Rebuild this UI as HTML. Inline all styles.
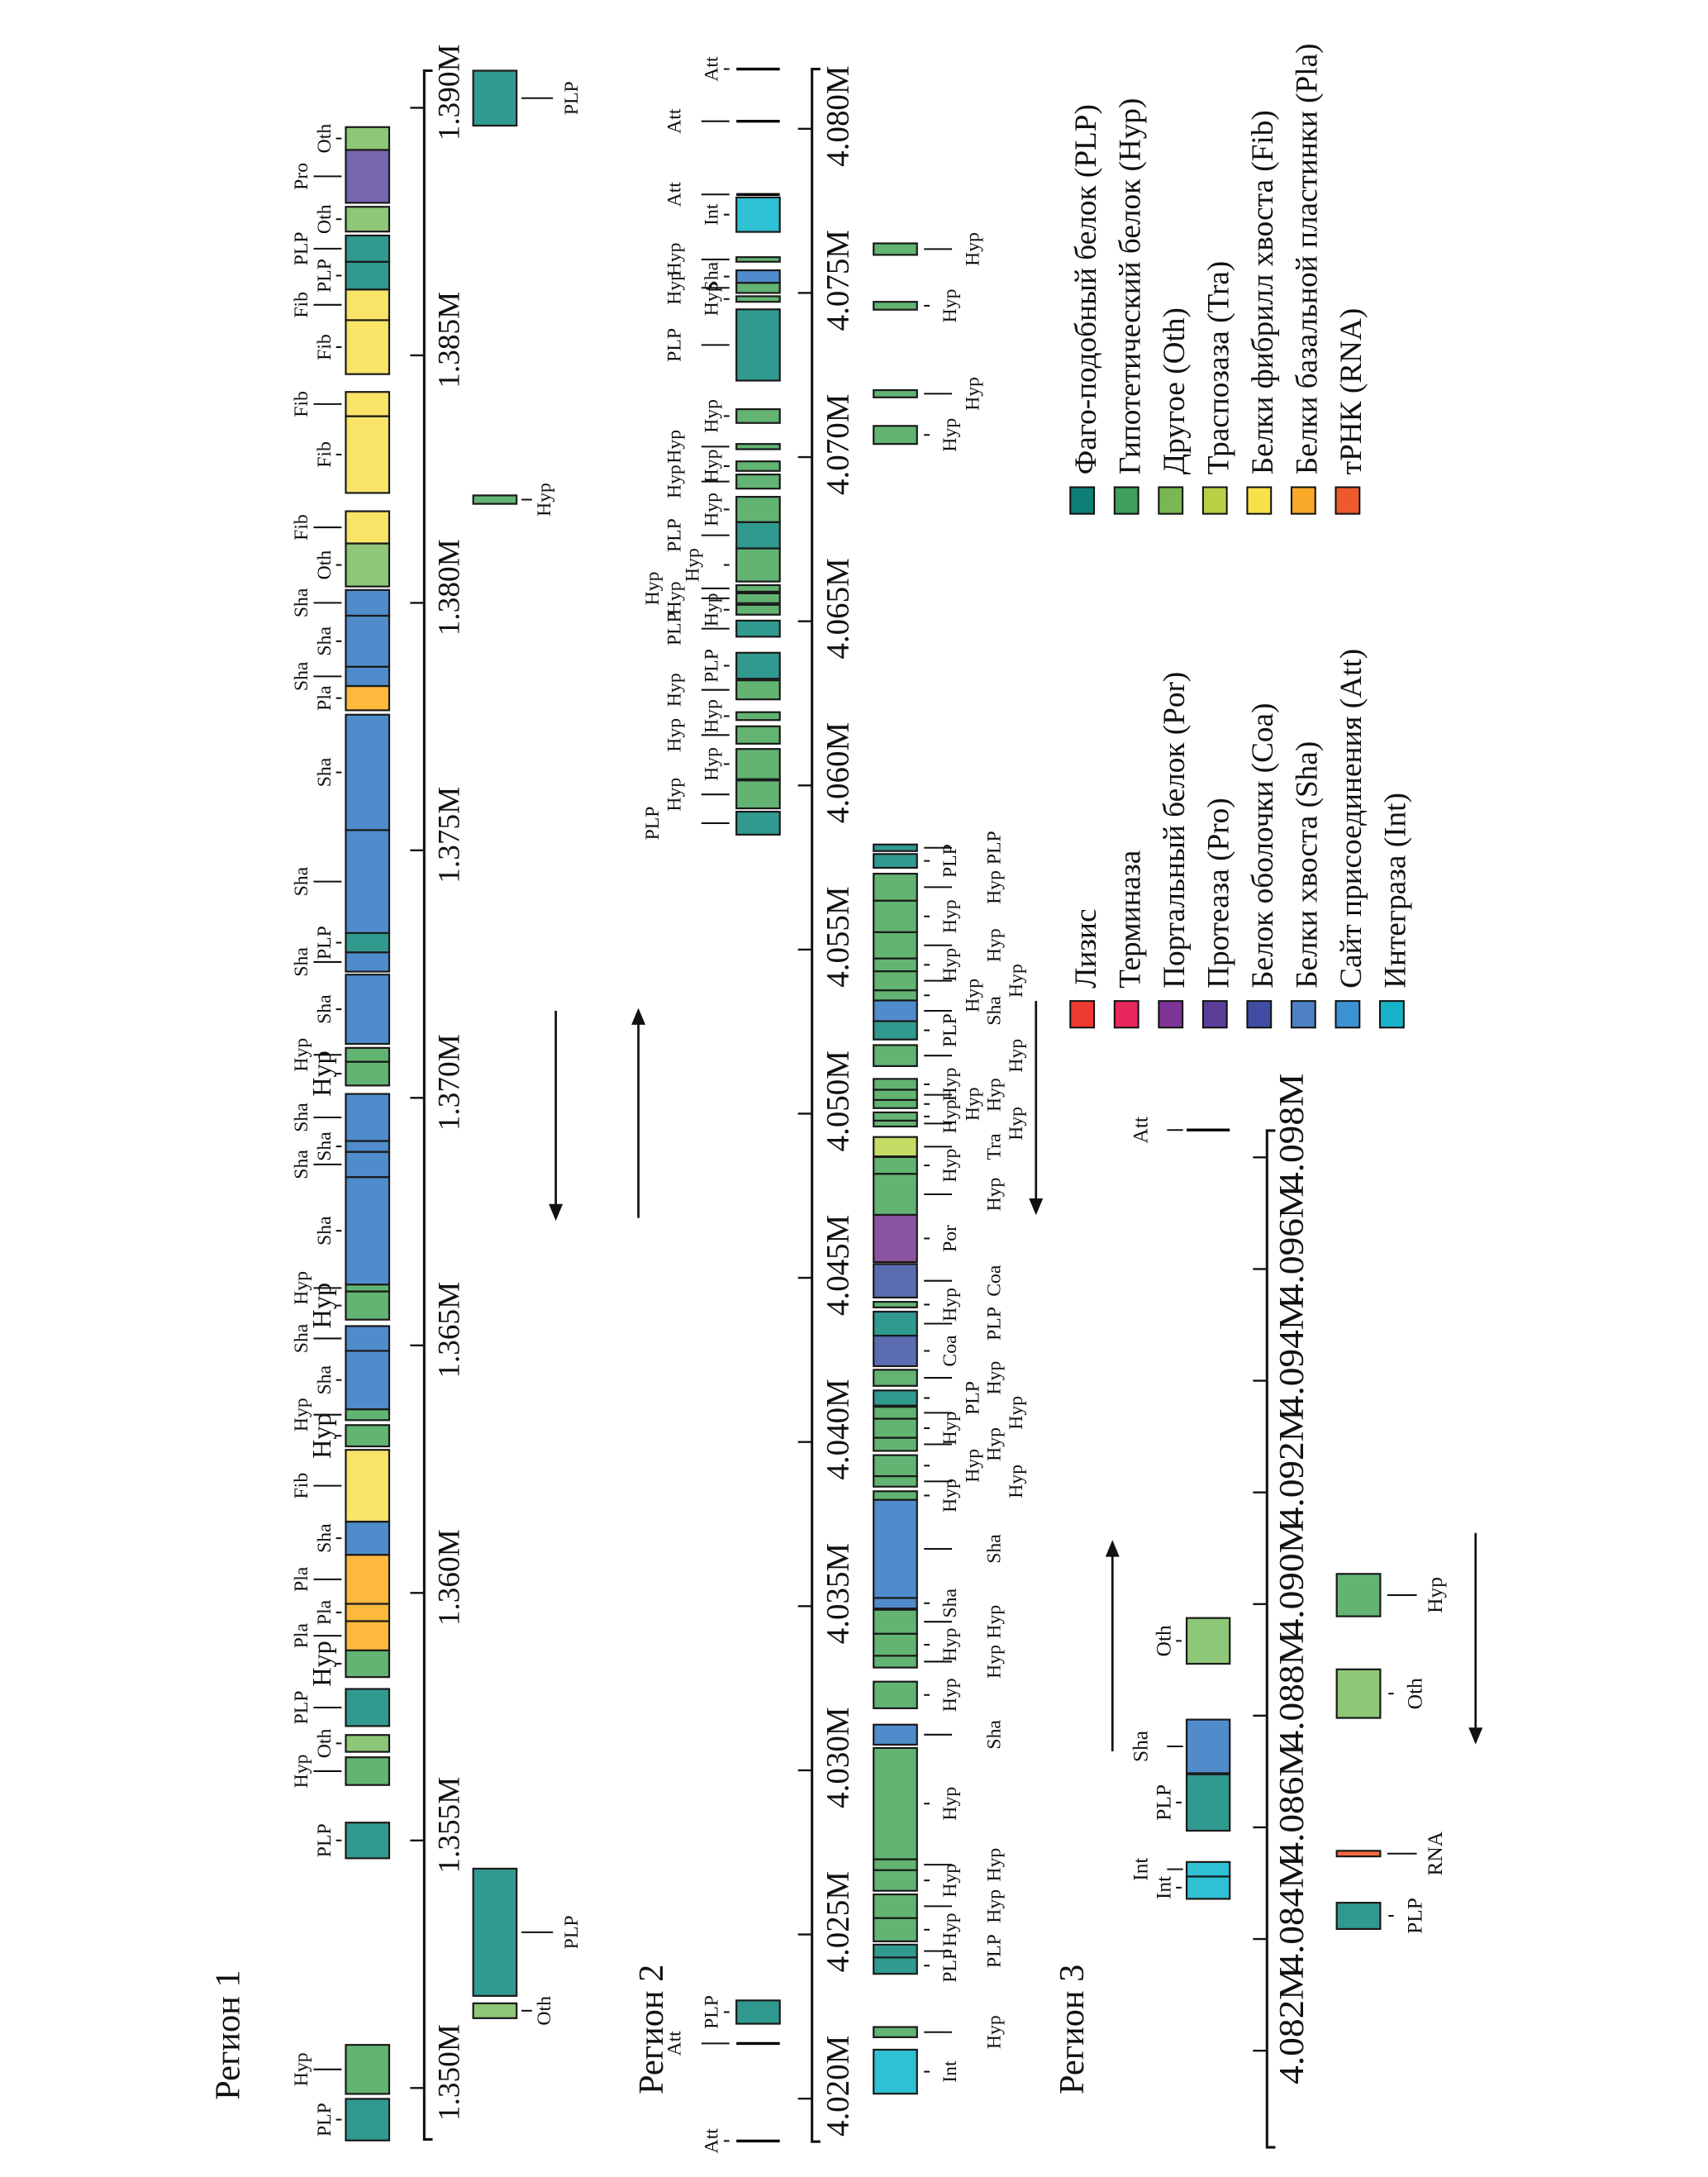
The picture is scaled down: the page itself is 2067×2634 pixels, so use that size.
<!DOCTYPE html>
<html><head><meta charset="utf-8">
<style>
html,body{margin:0;padding:0;background:#fff;}
svg{display:block;}
text{font-family:"Liberation Serif","Noto Serif CJK SC",serif;fill:#111;}
</style></head>
<body>
<svg id="chart" width="2067" height="2634" viewBox="0 0 1220 1555" preserveAspectRatio="none" xmlns="http://www.w3.org/2000/svg"></svg>
<script>
// ---------- Region 1 data ----------
const r1Start=[1348.94,1349.88,1354.64,1356.12,1356.79,1357.31,1358.30,1358.84,1359.43,1359.78,1360.77,1361.44,1362.96,1363.49,1363.71,1364.89,1365.52,1366.09,1366.23,1368.40,1368.91,1369.13,1370.25,1370.73,1371.09,1372.55,1372.94,1373.33,1375.41,1377.83,1378.32,1378.71,1379.74,1380.33,1381.20,1382.22,1383.77,1384.62,1385.71,1386.33,1386.89,1387.50,1388.08,1389.15,1351.41,1351.86,1382.00,1389.64];
const r1End=[1349.78,1350.87,1355.36,1356.68,1357.13,1358.06,1358.84,1359.43,1359.78,1360.77,1361.44,1362.89,1363.39,1363.71,1364.89,1365.39,1366.09,1366.23,1368.40,1368.91,1369.13,1370.08,1370.73,1371.01,1372.49,1372.94,1373.33,1375.41,1377.74,1378.32,1378.71,1379.74,1380.26,1381.20,1381.85,1383.77,1384.26,1385.71,1386.33,1386.89,1387.42,1388.00,1389.15,1389.61,1351.71,1354.43,1382.17,1390.75];
const r1Type=['PLP','Hyp','PLP','Hyp','Oth','PLP','Hyp','Pla','Pla','Pla','Sha','Fib','Hyp','Hyp','Sha','Sha','Hyp','Hyp','Sha','Sha','Sha','Sha','Hyp','Hyp','Sha','Sha','PLP','Sha','Sha','Pla','Sha','Sha','Sha','Oth','Fib','Fib','Fib','Fib','Fib','PLP','PLP','Oth','Pro','Oth','Oth','PLP','Hyp','PLP'];
const r1Strand=['L','L','L','L','L','L','L','L','L','L','L','L','L','L','L','L','L','L','L','L','L','L','L','L','L','L','L','L','L','L','L','L','L','L','L','L','L','L','L','L','L','L','L','L','R','R','R','R'];
const r1Level=[0,1,0,1,0,1,5,1,0,1,0,1,5,1,0,1,5,1,0,1,0,1,5,1,0,1,0,1,0,0,1,0,1,0,1,0,1,0,1,0,1,0,1,0,0,1,0,1];
const r1Ticks=[1350,1355,1360,1365,1370,1375,1380,1385,1390];
const r1TickLabels=['1.350M','1.355M','1.360M','1.365M','1.370M','1.375M','1.380M','1.385M','1.390M'];

// ---------- Region 2 data ----------
const r2Start=[4018.71,4021.68,4022.28,4020.15,4021.87,4023.80,4024.30,4024.79,4025.50,4026.33,4026.96,4027.29,4030.78,4031.89,4033.13,4033.49,4034.16,4034.93,4035.25,4038.24,4038.64,4038.96,4039.73,4040.13,4040.71,4041.11,4041.71,4042.31,4043.24,4044.10,4044.40,4045.48,4046.92,4048.17,4048.70,4049.61,4049.79,4050.17,4050.42,4050.73,4051.45,4052.26,4052.82,4053.45,4053.76,4054.34,4054.73,4055.53,4056.49,4057.49,4058.00,4058.50,4059.30,4060.19,4061.27,4061.99,4062.62,4063.25,4064.53,4065.20,4065.55,4065.90,4066.21,4067.22,4068.02,4069.04,4069.58,4070.24,4071.04,4072.33,4074.73,4075.00,4075.31,4075.95,4076.86,4078.00,4080.23,4081.82,4070.40,4071.82,4074.49,4076.16];
const r2End=[4018.71,4021.68,4022.99,4021.49,4022.18,4024.30,4024.69,4025.50,4026.22,4026.96,4027.29,4030.68,4031.39,4032.70,4033.49,4034.16,4034.89,4035.25,4038.24,4038.50,4038.96,4039.60,4040.13,4040.71,4041.07,4041.57,4042.20,4043.24,4043.97,4044.27,4045.42,4046.92,4048.17,4048.68,4049.29,4049.79,4050.04,4050.42,4050.73,4051.06,4052.09,4052.82,4053.45,4053.76,4054.34,4054.73,4055.53,4056.49,4057.31,4057.91,4058.20,4059.20,4060.15,4061.11,4061.80,4062.23,4063.20,4064.04,4065.02,4065.50,4065.85,4066.10,4067.22,4068.02,4068.79,4069.47,4069.87,4070.40,4071.46,4074.50,4074.90,4075.31,4075.69,4076.09,4077.91,4078.00,4080.23,4081.82,4070.95,4072.04,4074.73,4076.51];
const r2Type=['Att','Att','PLP','Int','Hyp','PLP','PLP','Hyp','Hyp','Hyp','Hyp','Hyp','Sha','Hyp','Hyp','Hyp','Hyp','Sha','Sha','Hyp','Hyp','Hyp','Hyp','Hyp','Hyp','PLP','Hyp','Coa','PLP','Hyp','Coa','Por','Hyp','Hyp','Tra','Hyp','Hyp','Hyp','Hyp','Hyp','Hyp','PLP','Sha','Hyp','Hyp','Hyp','Hyp','Hyp','Hyp','PLP','PLP','PLP','Hyp','Hyp','Hyp','Hyp','Hyp','PLP','PLP','Hyp','Hyp','Hyp','Hyp','PLP','Hyp','Hyp','Hyp','Hyp','Hyp','PLP','Hyp','Hyp','Sha','Hyp','Int','Att','Att','Att','Hyp','Hyp','Hyp','Hyp'];
const r2Strand=['L','L','L','R','R','R','R','R','R','R','R','R','R','R','R','R','R','R','R','R','R','R','R','R','R','R','R','R','R','R','R','R','R','R','R','R','R','R','R','R','R','R','R','R','R','R','R','R','R','R','R','L','L','L','L','L','L','L','L','L','L','L','L','L','L','L','L','L','L','L','L','L','L','L','L','L','L','L','R','R','R','R'];
const r2Level=[0,1,0,0,1,0,1,0,1,0,1,0,1,0,1,0,1,0,1,0,3,2,1,0,3,2,1,0,1,0,1,0,1,0,1,3,0,2,1,0,3,0,1,2,3,0,1,0,1,0,1,3,1,0,1,0,1,0,1,0,1,3,2,1,0,1,0,1,0,1,0,1,0,1,0,1,1,0,0,4,0,4];
const r2Ticks=[4020,4025,4030,4035,4040,4045,4050,4055,4060,4065,4070,4075,4080];
const r2TickLabels=['4.020M','4.025M','4.030M','4.035M','4.040M','4.045M','4.050M','4.055M','4.060M','4.065M','4.070M','4.075M','4.080M'];

// ---------- Region 3 data ----------
const r3Start=[4084.72,4085.12,4085.94,4086.97,4088.93,4098.49,4084.18,4085.48,4087.96,4089.78];
const r3End=[4085.12,4085.38,4086.95,4087.93,4089.75,4098.49,4084.65,4085.58,4088.83,4090.54];
const r3Type=['Int','Int','PLP','Sha','Oth','Att','PLP','RNA','Oth','Hyp'];
const r3Strand=['L','L','L','L','L','L','R','R','R','R'];
const r3Level=[0,1,0,1,0,1,0,1,0,1];
const r3Ticks=[4082,4084,4086,4088,4090,4092,4094,4096,4098];
const r3TickLabels=['4.082M','4.084M','4.086M','4.088M','4.090M','4.092M','4.094M','4.096M','4.098M'];

// ---------- Legend data ----------
const legend1Codes=['PLP','Hyp','Oth','Tra','Fib','Pla','RNA'];
const legend1Labels=['Фаго-подобный белок (PLP)','Гипотетический белок (Hyp)','Другое (Oth)','Траспозаза (Tra)','Белки фибрилл хвоста (Fib)','Белки базальной пластинки (Pla)','тРНК (RNA)'];
const legend2Codes=['Lys','Ter','Por','Pro','Coa','Sha','Att','Int'];
const legend2Labels=['Лизис','Терминаза','Портальный белок (Por)','Протеаза (Pro)','Белок оболочки (Coa)','Белки хвоста (Sha)','Сайт присоединения (Att)','Интеграза (Int)'];

const FILL={PLP:'#319a8f',Hyp:'#63b473',Oth:'#8dc777',Tra:'#c5dc65',Fib:'#f9e468',Pla:'#fdb93d',RNA:'#f46a3e',Por:'#8a54a0',Pro:'#7566ae',Coa:'#5b6cb2',Sha:'#508ccb',Int:'#2ec0d3',Att:'#000'};
const LEGCOL={PLP:'#0e7f76',Hyp:'#3fa05c',Oth:'#79b752',Tra:'#b9d046',Fib:'#f8e04a',Pla:'#f9a827',RNA:'#ef5a2c',Lys:'#ee3a33',Ter:'#e8285c',Por:'#7d3596',Pro:'#5a3e98',Coa:'#3f4ea2',Sha:'#4d80c4',Att:'#3b93d3',Int:'#19b3c9'};

const NS='http://www.w3.org/2000/svg';
const svg=document.getElementById('chart');
function mk(tag,attrs,parent){const e=document.createElementNS(NS,tag);for(const k in attrs)e.setAttribute(k,attrs[k]);(parent||svg).appendChild(e);return e;}
function vtext(x,y,str,size,anchor,parent){const t=mk('text',{transform:'translate('+x+','+y+') rotate(-90)','font-size':size,'text-anchor':anchor||'middle'},parent);t.textContent=str;return t;}

function drawRegion(cfg,starts,ends,types,strands,levels,ticks,tickLabels){
  const g=mk('g',{});
  
  
  const Y=kb=>cfg.y0+(cfg.k0-kb)*cfg.ppk;
  // axis
  const ax=mk('path',{d:'M'+(cfg.ax+6)+','+Y(cfg.axTop)+'H'+cfg.ax+'V'+Y(cfg.axBot)+'H'+(cfg.ax+6),fill:'none',stroke:'#111','stroke-width':1.8},g);
  
  
  ticks.forEach((t,i)=>{
    const y=Y(t);
    const tl=mk('line',{x1:cfg.ax-10,x2:cfg.ax,y1:y,y2:y,stroke:'#111','stroke-width':1.4},g);
    
    
    const tx=vtext(cfg.tickX,y+cfg.tickOff,tickLabels[i],cfg.tickSize,'middle',g);
    if(cfg.tickLen)tx.setAttribute('textLength',cfg.tickLen),tx.setAttribute('lengthAdjust','spacingAndGlyphs');
    
    
  });
  starts.forEach((s,i)=>{
    const e=ends[i],ty=types[i],side=cfg[strands[i]],lv=levels[i];
    const y1=Y(e),y2=Y(s),yc=(y1+y2)/2;
    if(ty==='Att'){
      const l=mk('line',{x1:side.bx,x2:side.bx+side.bw,y1:yc,y2:yc,stroke:'#000','stroke-width':2},g);
      
      
    }else{
      const r=mk('rect',{x:side.bx,y:y1,width:side.bw,height:Math.max(y2-y1,1.5),fill:FILL[ty],stroke:'#1a1a1a','stroke-width':1.3},g);
      
      
    }
    const longLine=(lv===1||lv===3||lv===4);
    const ln=longLine?side.far:side.near;
    const lk=mk('line',{x1:ln[0],x2:ln[1],y1:yc,y2:yc,stroke:'#111','stroke-width':1.2},g);
    
    
    const tx=[side.tNear,side.tFar,side.t2,side.t3,side.t2,side.tNear][lv];
    const t=vtext(tx,yc,ty,lv===5?19:cfg.lblSize,'middle',g);
    
    
  });
  const tt=vtext(cfg.titleX,cfg.titleY,cfg.title,25,'start',g);
  
  
}

drawRegion({name:'region-1',title:'Регион 1',titleX:171,titleY:1500,y0:77,k0:1390,ppk:35.36,ax:303,axTop:1390.75,axBot:1348.96,
  tickX:328,tickOff:-11,tickSize:22,lblSize:14,
  L:{bx:247,bw:31,near:[240,244],far:[224,244],tNear:236,tFar:219.6,t2:236,t3:219.6},
  R:{bx:338,bw:31,near:[372.5,380],far:[372.5,395],tNear:393,tFar:412.6,t2:393,t3:412.6}},
  r1Start,r1End,r1Type,r1Strand,r1Level,r1Ticks,r1TickLabels);

drawRegion({name:'region-2',title:'Регион 2',titleX:473.5,titleY:1496,y0:92,k0:4080,ppk:23.45,ax:580,axTop:4081.82,axBot:4018.69,
  tickX:606,tickOff:-9,tickSize:23,lblSize:14,
  L:{bx:526,bw:31,near:[517,521],far:[501,521],tNear:512.6,tFar:486,t2:499,t3:470.5},
  R:{bx:624,bw:31,near:[660,664],far:[660,680],tNear:683,tFar:714.5,t2:699,t3:730}},
  r2Start,r2End,r2Type,r2Strand,r2Level,r2Ticks,r2TickLabels);

drawRegion({name:'region-3',title:'Регион 3',titleX:773.7,titleY:1496,y0:826.7,k0:4098,ppk:39.88,ax:905,axTop:4098.48,axBot:4080.27,
  tickX:930.7,tickOff:-18,tickSize:25,tickLen:84,lblSize:15,
  L:{bx:847.6,bw:30.8,near:[840,844],far:[833.6,845],tNear:836,tFar:819.5,t2:836,t3:819.5},
  R:{bx:954.8,bw:31.1,near:[991.7,995.5],far:[991,1012],tNear:1015.5,tFar:1030,t2:1015.5,t3:1030}},
  r3Start,r3End,r3Type,r3Strand,r3Level,r3Ticks,r3TickLabels);

// strand arrows
function arrow(x,yFrom,yTo,name){
  const dir=yTo>yFrom?1:-1;
  const l=mk('line',{x1:x,x2:x,y1:yFrom,y2:yTo-dir*10,stroke:'#111','stroke-width':1.6});
  
  
  const p=mk('polygon',{points:(x-5)+','+(yTo-dir*12)+' '+(x+5)+','+(yTo-dir*12)+' '+x+','+yTo,fill:'#111'});
  
  
}
arrow(397,722,872,'region1-reverse-arrow');
arrow(456,870,720,'region1-forward-arrow');
arrow(740,715,868,'region2-reverse-arrow');
arrow(794.6,1251,1100,'region3-forward-arrow');
arrow(1054,1095,1246,'region3-reverse-arrow');

// legend
const lg=mk('g',{});


function legendCol(codes,labels,ySq){
  codes.forEach((c,i)=>{
    const x=764.5+i*31.6;
    const r=mk('rect',{x:x,y:ySq,width:17,height:19,fill:LEGCOL[c],stroke:'#111','stroke-width':1.2},lg);
    
    
    const t=vtext(x+18,ySq-9,labels[i],22,'start',lg);
    
    
  });
}
legendCol(legend1Codes,legend1Labels,348);
legendCol(legend2Codes,legend2Labels,715);
</script>
</body></html>
